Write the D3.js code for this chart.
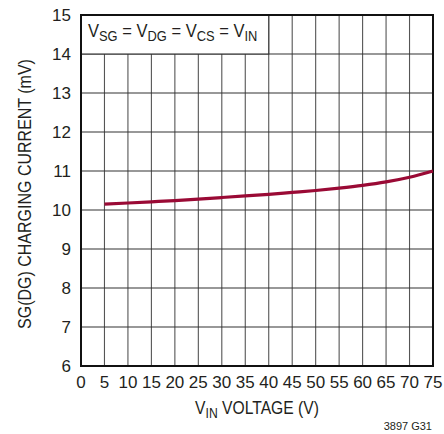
<!DOCTYPE html>
<html><head><meta charset="utf-8">
<script src="https://cdn.jsdelivr.net/npm/d3@7"></script>
<style>
html,body{margin:0;padding:0;background:#fff;}
svg{display:block;}
text{font-family:"Liberation Sans Narrow","Arial Narrow","Liberation Sans",Arial,sans-serif;fill:#231f20;}
</style></head><body>
<svg id="chart" width="444" height="434"></svg>
<script>
const xTicks = [0,5,10,15,20,25,30,35,40,45,50,55,60,65,70,75];
const yTicks = [6,7,8,9,10,11,12,13,14,15];
const vinVoltage = [5,10,15,20,25,30,35,40,45,50,55,60,65,70,75];
const chargingCurrent = [10.15,10.18,10.21,10.24,10.28,10.32,10.36,10.40,10.45,10.50,10.56,10.63,10.72,10.84,11.0];

const svg = d3.select("#chart");
const L=81, R=433, T=15, B=366;
const x = d3.scaleLinear().domain([0,75]).range([L,R]);
const y = d3.scaleLinear().domain([6,15]).range([B,T]);

// grid
const g = svg.append("g");
g.selectAll(".vg").data(xTicks.slice(1,-1)).enter().append("line")
  .attr("x1",d=>x(d)).attr("x2",d=>x(d)).attr("y1",T).attr("y2",B)
  .attr("stroke","#555").attr("stroke-width",1.1);
g.selectAll(".hg").data(yTicks.slice(1,-1)).enter().append("line")
  .attr("y1",d=>y(d)).attr("y2",d=>y(d)).attr("x1",L).attr("x2",R)
  .attr("stroke","#333").attr("stroke-width",1.1);

// annotation box
svg.append("rect").attr("x",L).attr("y",T).attr("width",x(40)-L).attr("height",y(14)-T)
  .attr("fill","#fff").attr("stroke","#333").attr("stroke-width",1.1);
const ann = svg.append("text").attr("transform","translate(88,37) scale(0.92,1)").style("font-size","18px");
const parts = [["V",""],["SG","sub"],[" = V",""],["DG","sub"],[" = V",""],["CS","sub"],[" = V",""],["IN","sub"]];
parts.forEach(([t,k],i)=>{
  const ts = ann.append("tspan").text(t);
  if(k==="sub"){ ts.attr("dy",4).style("font-size","14px"); }
  else if(i>0){ ts.attr("dy",-4); }
});

// border
svg.append("rect").attr("x",L).attr("y",T).attr("width",R-L).attr("height",B-T)
  .attr("fill","none").attr("stroke","#111").attr("stroke-width",2);

// curve
const line = d3.line().x((d,i)=>x(vinVoltage[i])).y(d=>y(d)).curve(d3.curveMonotoneX);
svg.append("path").datum(chargingCurrent).attr("d",line)
  .attr("fill","none").attr("stroke","#9a0a35").attr("stroke-width",3.2).attr("stroke-linecap","butt");

// tick labels
svg.selectAll(".yl").data(yTicks).enter().append("text")
  .attr("x",71).attr("y",d=>y(d)).attr("dy","0.36em").attr("text-anchor","end")
  .style("font-size","17px").text(d=>d);
svg.selectAll(".xl").data(xTicks).enter().append("text")
  .attr("x",d=>x(d)).attr("y",388).attr("text-anchor","middle")
  .style("font-size","17px").text(d=>d);

// axis titles
const xt = svg.append("text").attr("transform",`translate(${(L+R)/2},414) scale(0.87,1)`)
  .attr("text-anchor","middle").style("font-size","18px");
xt.append("tspan").text("V");
xt.append("tspan").text("IN").attr("dy",4).style("font-size","14px");
xt.append("tspan").text(" VOLTAGE (V)").attr("dy",-4);

svg.append("text").attr("transform",`translate(31,${(58+330)/2}) rotate(-90) scale(0.89,1)`)
  .attr("text-anchor","middle").style("font-size","18px").text("SG(DG) CHARGING CURRENT (mV)");

svg.append("text").attr("x",432).attr("y",430).attr("text-anchor","end")
  .style("font-size","11px").text("3897 G31");
</script></body></html>
